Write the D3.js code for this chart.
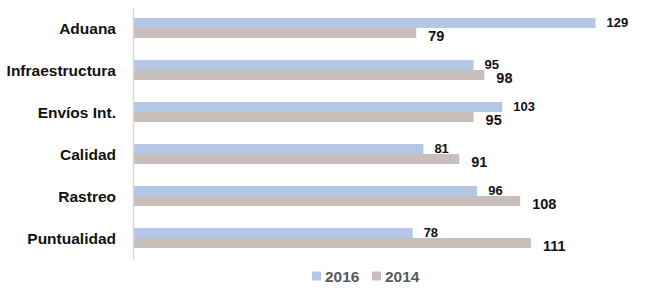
<!DOCTYPE html>
<html>
<head>
<meta charset="utf-8">
<script src="https://cdn.jsdelivr.net/npm/d3@7"></script>
<style>
  body { margin: 0; background: #fff; }
  text { font-family: "Liberation Sans", Arial, sans-serif; }
</style>
</head>
<body>
<div id="chart"></div>
<script>
// chart data
const categories = ["Aduana", "Infraestructura", "Envíos Int.", "Calidad", "Rastreo", "Puntualidad"];
const seriesNames = ["2016", "2014"];
const values2016 = [129, 95, 103, 81, 96, 78];
const values2014 = [79, 98, 95, 91, 108, 111];

const colors = {"2016": "#b4c7e7", "2014": "#c9bfba"};

const width = 650, height = 295;

let svg = d3.select("#chart")
    .append("svg")
    .attr("width", width)
    .attr("height", height);

// scales
let x = d3.scaleLinear().domain([0, 140]).range([133, 133 + 140 * 3.585]);
let y = d3.scaleBand().domain(categories).range([7, 259])
    .paddingInner(0.524).paddingOuter(0.262);
let ySub = d3.scaleBand().domain(seriesNames).range([0, y.bandwidth()]);

let rows = categories.map(function(c, i) {
    return {cat: c, "2016": values2016[i], "2014": values2014[i]};
});

// bars
let groups = svg.selectAll(".cat")
    .data(rows)
    .enter().append("g")
    .attr("class", "cat")
    .attr("transform", function(d) { return "translate(0," + y(d.cat) + ")"; });

groups.selectAll("rect")
    .data(function(d) { return seriesNames.map(function(s) { return {s: s, v: d[s]}; }); })
    .enter().append("rect")
    .attr("x", x(0))
    .attr("y", function(d) { return ySub(d.s); })
    .attr("width", function(d) { return x(d.v) - x(0); })
    .attr("height", ySub.bandwidth())
    .attr("fill", function(d) { return colors[d.s]; });

// value labels (2014 labels are bigger and sit a bit lower)
groups.selectAll(".val")
    .data(function(d) { return seriesNames.map(function(s) { return {s: s, v: d[s]}; }); })
    .enter().append("text")
    .attr("class", "val")
    .attr("x", function(d) { return x(d.v) + (d.s === "2016" ? 11 : 12); })
    .attr("y", function(d) { return ySub(d.s) + ySub.bandwidth() / 2 + (d.s === "2016" ? -1 : 3); })
    .attr("dominant-baseline", "central")
    .attr("font-weight", "bold")
    .attr("font-size", function(d) { return d.s === "2016" ? "13px" : "14.5px"; })
    .attr("fill", "#111")
    .text(function(d) { return d.v; });

// category axis
let yAxis = svg.append("g")
    .attr("transform", "translate(" + x(0) + ",0)")
    .call(d3.axisLeft(y).tickSize(0).tickPadding(17));
yAxis.select(".domain").attr("stroke", "#d9d9d9").attr("stroke-width", 1.5);
yAxis.selectAll("text")
    .attr("font-family", "Liberation Sans, Arial, sans-serif")
    .attr("font-size", "15.5px")
    .attr("font-weight", "bold")
    .attr("fill", "#111")
    .attr("dy", "0.4em");

// legend
let legend = svg.append("g").attr("transform", "translate(312,276)");
let item = legend.selectAll(".item")
    .data(seriesNames)
    .enter().append("g")
    .attr("class", "item")
    .attr("transform", function(d, i) { return "translate(" + (i * 60) + ",0)"; });
item.append("rect")
    .attr("x", 0).attr("y", -4.5)
    .attr("width", 9).attr("height", 9)
    .attr("fill", function(d) { return colors[d]; });
item.append("text")
    .attr("x", 13)
    .attr("y", 0)
    .attr("dominant-baseline", "central")
    .attr("font-size", "15.5px")
    .attr("font-weight", "bold")
    .attr("fill", "#595959")
    .text(function(d) { return d; });
</script>
</body>
</html>
